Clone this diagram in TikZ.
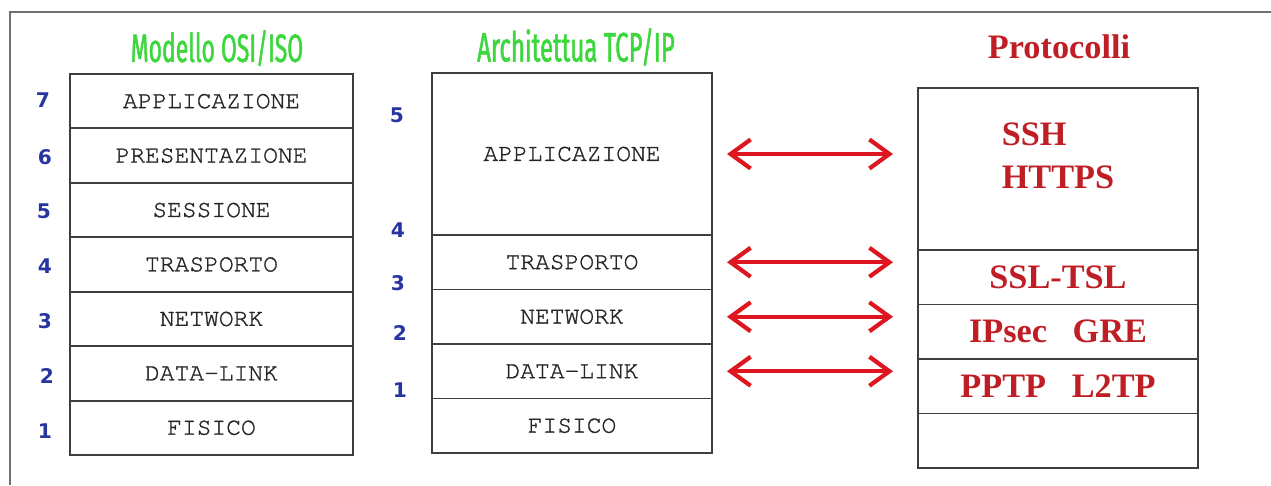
\documentclass[tikz,border=0pt]{standalone}
\usepackage{fontspec}
\setmonofont[FakeBold=1.2]{TeX Gyre Cursor}
\newfontfamily\titlefont[FakeStretch=0.58,FakeBold=1.2]{Fira Sans}
\newfontfamily\protofont{Liberation Serif}
\newfontfamily\numfont{DejaVu Sans}
\usepackage{tikz}
\usetikzlibrary{positioning,arrows.meta}

\definecolor{titlegreen}{RGB}{60,215,60}
\definecolor{numblue}{RGB}{40,52,160}
\definecolor{protored}{RGB}{190,30,36}
\definecolor{arrowred}{RGB}{222,22,32}
\definecolor{boxgray}{RGB}{62,62,62}
\definecolor{framegray}{RGB}{112,112,112}

\tikzset{
  layer/.style={rectangle, draw=boxgray, line width=1.1pt, inner sep=0pt, outer sep=0pt,
    minimum height=10.9mm, text=black!85, font=\ttfamily\fontsize{14}{16}\selectfont},
  osilayer/.style={layer, minimum width=56.6mm, minimum height=10.886mm},
  tcplayer/.style={layer, minimum width=56mm},
  protolayer/.style={layer, minimum width=56mm, text=protored,
    font=\protofont\bfseries\fontsize{19.5}{24.5}\selectfont},
  lvl/.style={text=numblue, font=\numfont\bfseries\fontsize{11.5}{13}\selectfont},
  heading/.style={text=titlegreen, font=\titlefont\fontsize{22.5}{24}\selectfont},
  biarrow/.style={{Straight Barb[length=4mm,width=5.8mm]}-{Straight Barb[length=4mm,width=5.8mm]},
    draw=arrowred, line width=2.4pt, shorten <=3mm, shorten >=5mm}
}

\begin{document}
\begin{tikzpicture}[x=0.2mm, y=-0.2mm]
\useasboundingbox (0,0) rectangle (1271,485);
\draw[framegray, line width=1.1pt] (10,485) |- (1271,12);

% modello OSI
\node[heading] (titosi) at (217,48) {Modello OSI/ISO};
\node[osilayer, anchor=north] (osiapp) at (211.5,74) {APPLICAZIONE};
\node[osilayer, below=0pt of osiapp] (osipres) {PRESENTAZIONE};
\node[osilayer, below=0pt of osipres] (osises) {SESSIONE};
\node[osilayer, below=0pt of osises] (ositrasp) {TRASPORTO};
\node[osilayer, below=0pt of ositrasp] (osinet) {NETWORK};
\node[osilayer, below=0pt of osinet] (osidl) {DATA-LINK};
\node[osilayer, below=0pt of osidl] (osifis) {FISICO};
\foreach \n/\x/\y in {7/43/100, 6/45/157, 5/44/211, 4/45/266, 3/45/321, 2/47/376, 1/45/431}
  \node[lvl] (osinum\n) at (\x,\y) {\n};

% architettura TCP/IP
\node[heading, font=\titlefont\fontsize{23.5}{25}\selectfont] (tittcp) at (576,47) {Architettua TCP/IP};
\node[tcplayer, anchor=north, minimum height=32.4mm] (tcpapp) at (572,73) {APPLICAZIONE};
\node[tcplayer, below=0pt of tcpapp] (tcptrasp) {TRASPORTO};
\node[tcplayer, below=0pt of tcptrasp] (tcpnet) {NETWORK};
\node[tcplayer, below=0pt of tcpnet] (tcpdl) {DATA-LINK};
\node[tcplayer, below=0pt of tcpdl] (tcpfis) {FISICO};
\foreach \n/\x/\y in {5/397/115, 4/398/230, 3/398/283, 2/400/333, 1/400/390}
  \node[lvl] (tcpnum\n) at (\x,\y) {\n};

% protocolli
\node[text=protored, font=\protofont\bfseries\fontsize{19.5}{22}\selectfont] (titproto) at (1059,47) {Protocolli};
\node[protolayer, anchor=north, minimum height=32.4mm, align=left] (protapp) at (1058,88) {SSH\\HTTPS\\[-0.5em]};
\node[protolayer, below=0pt of protapp] (protssl) {SSL-TSL};
\node[protolayer, below=0pt of protssl] (protip) {IPsec\hspace{0.75em}GRE};
\node[protolayer, below=0pt of protip] (protppp) {PPTP\hspace{0.75em}L2TP};
\node[protolayer, below=0pt of protppp] (protfis) {};

% frecce
\draw[biarrow] (tcpapp.east) -- (tcpapp.east -| protapp.west);
\draw[biarrow] (tcptrasp.east) -- (tcptrasp.east -| protssl.west);
\draw[biarrow] (tcpnet.east) -- (tcpnet.east -| protip.west);
\draw[biarrow] (tcpdl.east) -- (tcpdl.east -| protppp.west);
\end{tikzpicture}
\end{document}
